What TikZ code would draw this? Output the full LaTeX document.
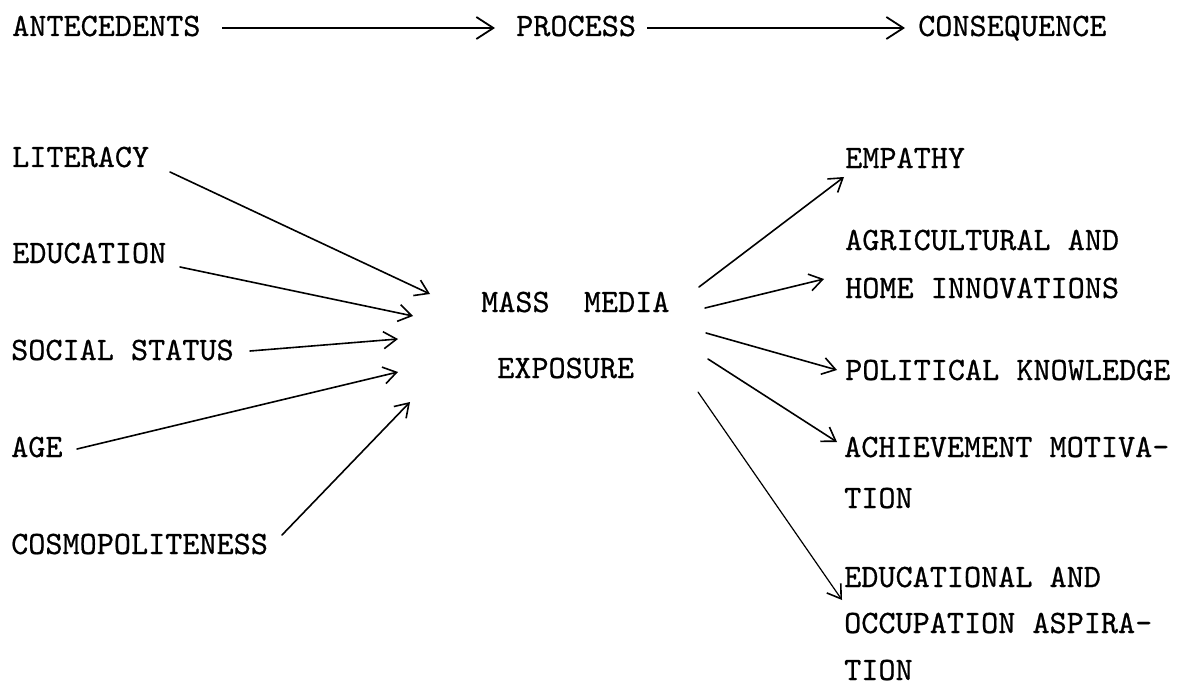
\documentclass[tikz,border=0pt]{standalone}
\usepackage{fontspec}
\newfontfamily\tw{lmmono10-regular}[Extension=.otf, FakeBold=0.6]
\usetikzlibrary{arrows.meta}
\begin{document}
\begin{tikzpicture}[x=1pt,y=-1pt,
  lbl/.style={anchor=base west, inner sep=0pt, font=\tw\fontsize{32.6}{38}\selectfont},
  arr/.style={line width=1.6pt, line cap=round, -{Straight Barb[length=13pt,width=17pt,line width=1.6pt]}},
  thinarr/.style={arr, line width=1.2pt},
  toparr/.style={line width=1.8pt, -{Straight Barb[length=17pt,width=22pt,line width=1.8pt]}}]
\useasboundingbox (0,0) rectangle (1190,687);
% top row
\node[lbl] (ante) at (12,36) {ANTECEDENTS};
\node[lbl] (proc) at (516,36) {PROCESS};
\node[lbl] (cons) at (918,36) {CONSEQUENCE};
% antecedents
\node[lbl] (lit) at (12,167) {LITERACY};
\node[lbl] (edu) at (12,263) {EDUCATION};
\node[lbl] (soc) at (11,360) {SOCIAL STATUS};
\node[lbl] (age) at (11,457) {AGE};
\node[lbl] (cos) at (11,554) {COSMOPOLITENESS};
% process
\node[lbl] (mm) at (481,312) {MASS\ \ MEDIA};
\node[lbl] (exp) at (497,378) {EXPOSURE};
% consequences
\node[lbl] (emp) at (845,168) {EMPATHY};
\node[lbl] (agr1) at (845,250) {AGRICULTURAL AND};
\node[lbl] (agr2) at (845,298) {HOME INNOVATIONS};
\node[lbl] (pol) at (845,380) {POLITICAL KNOWLEDGE};
\node[lbl] (ach1) at (844,457) {ACHIEVEMENT MOTIVA-};
\node[lbl] (ach2) at (844,508) {TION};
\node[lbl] (asp1) at (844,587) {EDUCATIONAL AND};
\node[lbl] (asp2) at (844,633) {OCCUPATION ASPIRA-};
\node[lbl] (asp3) at (844,680) {TION};
% connector ends
\coordinate (t1s) at (222,28); \coordinate (t1e) at (495,28);
\coordinate (t2s) at (647,28); \coordinate (t2e) at (905,28);
\coordinate (litS) at (170,172); \coordinate (litE) at (430,294);
\coordinate (eduS) at (180,267); \coordinate (eduE) at (413,316);
\coordinate (socS) at (250,351); \coordinate (socE) at (398,339);
\coordinate (ageS) at (77,449);  \coordinate (ageE) at (398,372);
\coordinate (cosS) at (282,535); \coordinate (cosE) at (410,402);
\coordinate (empS) at (699,287); \coordinate (empE) at (844,177);
\coordinate (agrS) at (705,308); \coordinate (agrE) at (824,279);
\coordinate (polS) at (706,333); \coordinate (polE) at (837,370);
\coordinate (achS) at (708,359); \coordinate (achE) at (837,442);
\coordinate (aspS) at (698,392); \coordinate (aspE) at (842,600);
% connectors
\draw[toparr] (t1s) -- (t1e);
\draw[toparr] (t2s) -- (t2e);
\draw[arr] (litS) -- (litE);
\draw[arr] (eduS) -- (eduE);
\draw[arr] (socS) -- (socE);
\draw[arr] (ageS) -- (ageE);
\draw[arr] (cosS) -- (cosE);
\draw[arr] (empS) -- (empE);
\draw[arr] (agrS) -- (agrE);
\draw[arr] (polS) -- (polE);
\draw[arr] (achS) -- (achE);
\draw[thinarr] (aspS) -- (aspE);
\end{tikzpicture}
\end{document}
